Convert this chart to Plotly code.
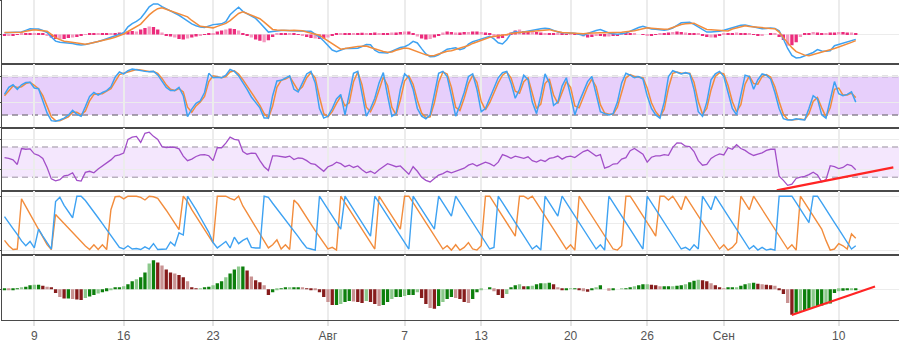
import pandas as pd
import plotly.graph_objects as go

# 8-hour bars
dates = pd.date_range("2018-07-06 16:00", periods=201, freq="8h")

macd = [
    1.7, 1.8, 1.9, 2, 2.5, 4.2, 5.7, 5.6, 5.5, 4,
    2, -2.6, -6.8, -8, -8.2, -8.4, -9.1, -10.2, -10.8, -10.2,
    -9.3, -8.3, -7.2, -5.8, -4.2, -2.5, -0.9, 0.4, 1.7, 7.7,
    11, 13.2, 16.4, 22, 28, 31, 31, 28.3, 26, 24.3,
    22.2, 19.5, 16.5, 13.5, 10.8, 8.8, 7.5, 7.2, 8.8, 10,
    10.4, 10.8, 13, 20, 24.1, 27.7, 23.5, 21, 19, 16.3,
    11.8, 7, 2.4, 3, 3.6, 3.9, 4, 4, 3.9, 3.5,
    3.3, 3.3, 3.2, 0.3, -2.6, -6.7, -11.8, -15.8, -17.6, -15.8,
    -14.3, -14.3, -14.3, -14, -12.2, -10.3, -10.5, -16, -18.4, -18.7,
    -18.8, -16.9, -14.9, -13.2, -12.4, -10.3, -7, -8.6, -14.4, -19.8,
    -22.7, -22.5, -20.6, -17.8, -15, -14.3, -13.5, -15.4, -14.2, -9.8,
    -7.4, -6, -4.7, -3.3, -1.8, -4.5, -8.4, -9.7, -5.3, 1.2,
    2.9, 1.8, 2.6, 4, 4.9, 5.5, 5.9, 6.4, 5.9, 4.2,
    2.5, 1.7, 1.7, 1.7, 1.2, 0.3, -0.9, 1, 2.8, 4,
    4.9, 2.9, 1.5, 0.6, 0.1, 0.8, 1.5, 3.2, 5.2, 7,
    8.3, 6.8, 5.6, 5.2, 4.8, 4.4, 5, 6.6, 9.3, 11.8,
    12.1, 12.3, 10.3, 7.8, 5, 2.4, 2.6, 2.9, 3.2, 4.3,
    5.6, 6.5, 7.8, 9.3, 9.6, 8.6, 7.6, 6.7, 5.8, 6,
    6.5, 6.1, 3.8, -4.6, -14.2, -21.2, -23.8, -23.4, -21.8, -20,
    -18.3, -15.4, -16.8, -17.1, -16.6, -11.4, -10.1, -8.3, -7, -5.5,
    -5,
]

signal = [
    2, 2, 2, 2, 2.2, 3.3, 4.4, 4.9, 4.4, 3.8,
    3.3, 0, -3.3, -5.3, -6.9, -7.4, -8.1, -8.8, -9.5, -10,
    -9.1, -8.2, -7.3, -6.3, -5.3, -4.1, -2.8, -1.3, 0.4, 3,
    5.4, 7.9, 10.5, 15.2, 19.9, 23.4, 26.2, 27.1, 25.7, 24.2,
    22.7, 21, 19.6, 17.9, 14.2, 10.9, 8.3, 7.8, 7.2, 6.7,
    8.2, 9.8, 11.3, 14.1, 17.7, 21.3, 23, 21.3, 19.6, 18.5,
    16, 12.6, 9.1, 5.1, 4.6, 4.2, 4, 4.1, 4.2, 4.3,
    3.7, 2.6, 1.4, 0.3, -0.8, -3.7, -6.6, -9.5, -12.5, -14.9,
    -14.3, -13.4, -12.7, -12.2, -11.9, -11.8, -13.2, -14.8, -16.2, -17.3,
    -18, -17.8, -16.1, -14.8, -13.7, -14.3, -16, -17.6, -19.3, -20.7,
    -21.5, -21.4, -19.9, -18.3, -17.1, -16.5, -15.4, -14, -12.7, -11.3,
    -9.1, -7.4, -5.8, -3.8, -2.9, -2.1, -1.5, -1.1, -0.1, 0.9,
    1.6, 2, 2.4, 2.8, 3.3, 3.8, 4.2, 4.8, 4.9, 3.7,
    2.6, 1.9, 1.7, 1.4, 1.1, 0.9, 0.8, 1.2, 1.6, 1.7,
    1.7, 1.7, 1.7, 1.7, 1.7, 2.3, 2.8, 3.2, 3.8, 4.8,
    5.8, 6.7, 6.3, 5.9, 5.5, 5.2, 5.6, 7.4, 9, 10.2,
    10.8, 11.3, 11.5, 9.3, 7.1, 5, 4.7, 4.3, 3.9, 3.6,
    3.6, 5.6, 6.8, 8.4, 8.9, 8.1, 7.6, 7, 6.6, 6.3,
    6.1, 5.8, 2.4, -3.2, -8.9, -13.4, -17.4, -19.6, -21, -21.5,
    -20.4, -19.1, -17.9, -16.7, -15.6, -14.2, -12.7, -11.3, -9.7, -8,
    -6.3,
]

macd_hist = [
    -1, -1, -1, -0.5, 0.5, 1, 1.5, 1.5, 1, 0.5,
    -1.5, -3, -4.5, -5, -4.5, -3.5, -3, -2.5, -1.5, -0.5,
    0.5, 1, 1, 1.2, 1.5, 1.5, 1.5, 2, 2, 3,
    3.5, 3, 5, 6.5, 8, 7.5, 5, 2, -1, -2,
    -3, -4.5, -5, -4, -3, -2, -1.5, -0.5, 0.5, 1.5,
    3, 4, 5, 6, 5.5, 4, 1, -1, -3, -5,
    -6.5, -8, -6, -2.5, 0.5, 0.8, 1, 0.8, 0.5, 0.3,
    -1, -2.5, -3.5, -4, -4.5, -4, -3, -1, 0.5, 1,
    1, 1.2, 1.5, 1.5, 1.7, 1.5, 1.5, 2, 1.5, 1.2,
    1.5, 2, 2, 2.5, 3, 3, 1, -2, -4, -5,
    -4.5, -3, -1, 2, 3, 2.5, 2, 2, 2.5, 2.5,
    3, 3, 2.5, 2, 0.5, -2, -4, -3.5, -1, 2,
    4, 5, 3.5, 3, 3, 2.5, 2, 1.5, 1, 0.5,
    0.5, 0.5, 0.3, 0.5, 0.5, -0.5, -2, -3, -2.5, -1,
    -1.5, -2, -2, -1.5, -1, 0.5, 1, 1, 0.5, 0,
    -0.5, -1, -1, -0.5, 0.5, 1.5, 2, 2.5, 3, 2.5,
    2, 1.5, 1, 0.5, -1.5, -2.5, -3, -3, -1.5, 0.5,
    1, 1.5, 2, 1.5, 1, 0.5, -0.5, -1, -1, 0,
    0.5, 1, -2.5, -5.5, -11.5, -11, -8, -2.5, 1, 1.5,
    2.5, 2, 1, 1.5, 2, 2, 2.5, 2.5, 2, 2,
    1.5,
]

stoch_k = [
    52, 63, 67, 60, 67, 70.5, 71, 62, 61, 42,
    23, 11, 10, 12, 15, 19.5, 27, 21, 18, 33,
    49, 55, 51, 55, 58, 64, 79, 87, 84, 89,
    91.5, 90.5, 89, 88, 87.5, 88, 82.5, 72, 63, 58,
    58, 63, 50, 17.5, 29, 38, 42, 55, 85, 78,
    79, 78, 82, 91, 88, 81, 71, 60, 48, 39,
    31, 15, 15, 50, 73, 74, 78, 81, 60, 56,
    70, 84, 88, 70, 30, 15, 18, 30, 45, 52,
    20, 55, 85, 88, 50, 18, 30, 46, 70, 86,
    50, 18, 22, 60, 84, 78, 60, 30, 18, 14,
    20, 55, 85, 88, 80, 50, 18, 35, 55, 80,
    84, 60, 25, 30, 46, 60, 78, 86, 88, 70,
    46, 60, 82, 75, 40, 22, 50, 84, 70, 35,
    40, 65, 78, 50, 20, 40, 55, 72, 80, 50,
    25, 22, 20, 22, 40, 70, 85, 82, 78, 80,
    76, 50, 30, 20, 15, 40, 80, 89, 86, 84,
    86, 84, 60, 25, 18, 40, 75, 84, 88, 80,
    55, 30, 20, 50, 82, 80, 60, 75, 84, 82,
    76, 55, 30, 14, 12, 12, 14, 13, 12, 30,
    50, 45, 20, 15, 45, 72, 53, 50, 52, 56,
    40,
]

stoch_d = [
    50, 58, 65, 63, 64, 69, 71, 66, 61, 50,
    32, 17, 11, 11, 14, 17, 24, 24, 20, 26,
    42, 52, 53, 53, 57, 61, 72, 83, 85, 87,
    90, 91, 90, 88.5, 88, 88, 85, 77, 67, 60,
    58, 61, 56, 32, 24, 34, 40, 49, 72, 81,
    79, 78, 80, 87, 89, 84, 75, 65, 53, 43,
    35, 22, 15, 34, 63, 74, 76, 80, 69, 58,
    64, 78, 86, 78, 48, 22, 17, 25, 38, 49,
    34, 39, 72, 87, 67, 32, 25, 39, 59, 79,
    66, 32, 20, 43, 73, 81, 68, 43, 23, 16,
    17, 39, 71, 87, 84, 63, 32, 27, 46, 69,
    82, 71, 41, 28, 39, 54, 70, 82, 87, 78,
    57, 54, 72, 78, 56, 30, 37, 69, 76, 51,
    38, 54, 72, 63, 34, 31, 48, 64, 76, 64,
    36, 23, 21, 21, 32, 56, 78, 83, 80, 79,
    78, 62, 39, 25, 17, 29, 62, 85, 87, 85,
    85, 85, 71, 41, 21, 30, 59, 80, 86, 84,
    66, 41, 25, 36, 68, 81, 69, 68, 80, 83,
    79, 64, 41, 21, 13, 12, 13, 13.5, 12.5, 22,
    41, 47, 31, 17, 31, 60, 62, 51, 51, 54,
    47,
]

rsi = [
    56, 55, 53, 47, 68, 67, 67.5, 61, 59, 55,
    43, 28, 25.5, 27, 32, 33, 36, 26, 25, 36.5,
    38, 36, 41, 45, 48.5, 53, 58.3, 59.5, 62, 80,
    83, 84, 76, 88, 89.5, 84, 80, 70.5, 69.3, 70,
    69.5, 67.5, 58, 52, 54, 57.5, 59.5, 60, 58.5, 52,
    69, 69, 75, 83, 80, 79, 64, 60.5, 62, 61.5,
    52, 44, 39, 58.3, 58.3, 57, 56.5, 58, 53.5, 55.5,
    55, 52, 48, 47, 42, 38, 44, 46, 50, 48,
    44, 46, 43, 45, 40, 36, 38, 35, 40, 44,
    48, 46, 44, 45, 40, 34, 44, 38, 30, 26,
    24, 28, 33, 35, 38, 36, 38, 40, 42, 46,
    48, 45, 47, 50, 48, 45, 50, 60, 58, 55,
    58, 56, 55, 57, 52, 50, 53, 51, 55, 56,
    58, 54, 57, 58, 56, 60, 64, 66, 62, 58,
    60, 42, 44, 47.5, 48, 54, 56, 65, 68, 64,
    60.5, 50, 56.5, 58.3, 58.3, 60, 59, 69.5, 75.5, 75,
    71, 70.5, 64, 52, 46, 47, 55, 58.5, 61, 59.5,
    69, 67, 73, 68, 65.5, 61.5, 58.8, 60.5, 62.3, 65.5,
    67, 67, 31.5, 26, 19.5, 21, 28.5, 30.2, 31.2, 33.5,
    36.7, 33, 24, 27, 45.3, 44, 41.5, 43, 47, 45.5,
    40,
]

aroon_up = [
    18, 8, 1, 2, 95, 80.7, 66.8, 52.5, 38.2, 24.3,
    10, 1, 66, 57.7, 49.3, 41, 32.6, 24.2, 16, 7.5,
    1, 10, 1, 10, 1, 75, 99, 100, 95, 100,
    100, 100, 98, 93, 100, 99, 96, 86, 74, 62,
    50, 38, 100, 90, 75, 62.5, 50, 38, 25.5, 13.5,
    100, 100, 100, 96, 93, 100, 82, 69, 56, 43,
    29.5, 17, 4, 10, 19, 2, 10, 1, 93, 85,
    72, 60, 48, 36, 24, 12, 2, 5, 0, 100,
    88, 75, 63, 51, 39, 26, 14, 2, 100, 88,
    75, 63, 51, 39, 100, 100, 88, 75, 63, 51,
    39, 26, 14, 2, 8, 0, 10, 0, 5, 14,
    2, 0, 8, 100, 100, 88, 75, 63, 51, 39,
    26, 100, 100, 95, 100, 88, 75, 63, 51, 39,
    26, 14, 2, 10, 0, 100, 88, 75, 63, 51,
    39, 26, 14, 2, 0, 8, 100, 100, 88, 75,
    63, 51, 39, 26, 100, 100, 93, 100, 88, 75,
    100, 88, 75, 63, 51, 39, 26, 14, 2, 10,
    0, 5, 14, 100, 88, 75, 100, 88, 75, 63,
    51, 39, 26, 14, 2, 10, 0, 100, 88, 75,
    63, 51, 39, 18, 0, 2, 12, 8, 2, 30,
    22,
]

aroon_down = [
    62, 52, 40, 29, 17, 8, 16, 4, 39, 26,
    13, 2, 90, 98, 83, 72, 60, 100, 100, 92,
    82, 71, 60, 49, 38, 28, 15, 5, 2, 8,
    2, 3, 1, 6, 2, 12, 1, 1, 2, 15,
    8, 32, 28, 100, 88, 75, 61, 47, 33, 14,
    4, 10, 16, 4, 24, 12, 18, 22, 5, 4,
    4, 100, 98, 87, 77, 67, 56, 46, 36, 25,
    14, 4, 2, 0, 100, 88, 75, 63, 51, 39,
    100, 88, 75, 63, 51, 39, 26, 100, 88, 75,
    63, 51, 39, 26, 14, 2, 100, 88, 75, 63,
    51, 39, 100, 88, 75, 63, 100, 88, 75, 63,
    51, 39, 26, 14, 2, 5, 100, 88, 75, 63,
    51, 39, 26, 14, 2, 8, 0, 100, 88, 75,
    63, 100, 88, 75, 63, 51, 39, 26, 14, 2,
    10, 0, 100, 88, 75, 63, 51, 39, 26, 14,
    2, 100, 88, 75, 63, 51, 39, 26, 14, 2,
    5, 0, 10, 2, 100, 88, 75, 100, 88, 75,
    63, 51, 39, 26, 14, 2, 8, 0, 5, 0,
    2, 0, 100, 100, 100, 100, 88, 75, 63, 51,
    100, 100, 88, 75, 63, 51, 39, 26, 14, 2,
    8,
]

ao = [
    -0.5, -1, -0.5, 0.5, 1, 2.5, 4, 4.5, 4.5, 3.5,
    2.5, 1, -4, -8, -9.5, -9.5, -10, -10.5, -11, -9,
    -7.5, -6, -4.5, -3, -2, -1, 1, 2, 3, 5,
    8, 10, 12, 17, 26, 29.4, 27, 24, 20, 17,
    16, 14.5, 12, 8, 2, 0.3, 0.5, 1, 2.5, 4,
    6, 8, 12, 16, 20, 23, 23, 19, 13, 9,
    7, 4, -6, -3, -1, 0.3, 1, 1.5, 1.5, 1.5,
    1, 0.5, -0.5, -1, -3, -8, -13, -16, -16, -15,
    -13, -12, -12.5, -13, -14, -12, -13, -15, -17, -16,
    -13, -10, -8, -8, -7, -6, -6, -3, -9, -15,
    -19, -20, -17, -13, -10, -8, -9, -10, -13, -14,
    -10, -3, -0.5, 0, 1, -2, -6, -9, -5, 1,
    4, 5, 3, 3, 3.5, 5, 6, 6, 6.5, 5,
    2, -1, -0.5, 0.5, 0.5, -1, -2, -2.5, -1, 1.5,
    4, 0, -1.5, -1, 0, 0.5, 0.5, 1.5, 3, 4,
    5, 5, 4.5, 4, 3, 3, 3, 3, 3.5, 4,
    5, 7, 8.5, 9.5, 9, 8, 6, 4, 1.5, 0.5,
    1, 1.5, 2, 3.5, 5, 6, 6.5, 5.5, 5, 4.5,
    4, 3.5, -1, -5, -14, -26, -24, -23, -21.5, -20,
    -18.5, -17.5, -16.5, -15.5, -14.5, -4, -2, -1.5, -1, -1,
    -0.5,
]

tick_dates = ["2018-07-09", "2018-07-16", "2018-07-23", "2018-08-01", "2018-08-07",
              "2018-08-13", "2018-08-20", "2018-08-26", "2018-09-01", "2018-09-10"]
tick_text = ["9", "16", "23", "Авг", "7", "13", "20", "26", "Сен", "10"]

rsi_trend_dates = ["2018-09-05 03:30", "2018-09-14 06:40"]
rsi_trend_vals = [12.9, 43.2]
ao_trend_dates = ["2018-09-06 07:40", "2018-09-12 20:10"]
ao_trend_vals = [-26.3, 2.7]

BLUE = "#3ea2f2"
ORANGE = "#f28c3c"
PURPLE = "#a24fc8"
RED = "#ff2424"
GRID = "#ececec"
FRAME = "#4a4a4a"
BAR_W = 8 * 3600 * 1000 * 0.78


def shade(vals, rise, rise_lt, fall, fall_lt):
    out = []
    for i, v in enumerate(vals):
        prev = vals[i - 1] if i else v
        light = i % 3 == 1
        if v >= prev:
            out.append(rise_lt if light else rise)
        else:
            out.append(fall_lt if light else fall)
    return out


fig = go.Figure()

# panel 1: MACD
fig.add_bar(x=dates, y=macd_hist, width=BAR_W, xaxis="x", yaxis="y",
            marker=dict(color=shade(macd_hist, "#ec2b7c", "#f59ac0", "#ec2b7c", "#f59ac0"),
                        line_width=0))
fig.add_scatter(x=dates, y=macd, mode="lines", line=dict(color=BLUE, width=1.5),
                xaxis="x", yaxis="y")
fig.add_scatter(x=dates, y=signal, mode="lines", line=dict(color=ORANGE, width=1.5),
                xaxis="x", yaxis="y")

# panel 2: stochastic
fig.add_scatter(x=dates, y=stoch_d, mode="lines", line=dict(color=ORANGE, width=1.5),
                xaxis="x2", yaxis="y2")
fig.add_scatter(x=dates, y=stoch_k, mode="lines", line=dict(color=BLUE, width=1.5),
                xaxis="x2", yaxis="y2")

# panel 3: RSI
fig.add_scatter(x=dates, y=rsi, mode="lines", line=dict(color=PURPLE, width=1.3),
                xaxis="x3", yaxis="y3")
fig.add_scatter(x=rsi_trend_dates, y=rsi_trend_vals, mode="lines",
                line=dict(color=RED, width=2.2), xaxis="x3", yaxis="y3")

# panel 4: Aroon
fig.add_scatter(x=dates, y=aroon_up, mode="lines", line=dict(color=ORANGE, width=1.4),
                xaxis="x4", yaxis="y4")
fig.add_scatter(x=dates, y=aroon_down, mode="lines", line=dict(color=BLUE, width=1.4),
                xaxis="x4", yaxis="y4")

# panel 5: awesome oscillator
fig.add_bar(x=dates, y=ao, width=BAR_W, xaxis="x5", yaxis="y5",
            marker=dict(color=shade(ao, "#0c7f0c", "#8cc98c", "#861c1c", "#c99393"),
                        line_width=0))
fig.add_scatter(x=ao_trend_dates, y=ao_trend_vals, mode="lines",
                line=dict(color=RED, width=2.2), xaxis="x5", yaxis="y5")

PLOT_H = 325.0
panels = [
    # (top px, bottom px, y range, grid values)
    (0, 64.5, [-29.5, 35], [0, 34]),
    (64.5, 129.7, [0, 100.3], [0, 40, 80]),
    (129.7, 194.3, [11.6, 95.4], [40, 80]),
    (194.3, 259.3, [-9.7, 109.1], [0, 50, 100]),
    (259.3, 325, [-31.3, 34.4], [0]),
]
x_range = ["2018-07-06 11:17", "2018-09-14 17:17"]

layout = dict(
    width=899, height=343,
    margin=dict(l=2, r=0, t=0, b=18),
    paper_bgcolor="white", plot_bgcolor="white",
    showlegend=False, barmode="overlay",
    font=dict(family="Liberation Sans, Arial, sans-serif", size=12, color="#555"),
    shapes=[],
)

for k, (top, bot, yr, gv) in enumerate(panels, start=1):
    sx = "" if k == 1 else str(k)
    last = k == len(panels)
    layout["xaxis" + sx] = dict(
        type="date", range=x_range, anchor="y" + sx,
        tickvals=tick_dates, ticktext=tick_text,
        showticklabels=last, ticks="outside" if last else "",
        ticklen=5, tickwidth=2, tickcolor="#e3e3e3",
        showgrid=True, gridcolor=GRID, gridwidth=2,
        showline=True, linecolor=FRAME, linewidth=1,
        mirror=(k != 1), zeroline=False, fixedrange=True,
        tickfont=dict(size=12, color="#555"),
    )
    layout["yaxis" + sx] = dict(
        domain=[1 - bot / PLOT_H, 1 - top / PLOT_H], range=yr, anchor="x" + sx,
        tickvals=gv, showticklabels=False, ticks="outside", ticklen=2,
        tickcolor=FRAME, showgrid=True, gridcolor=GRID, gridwidth=1,
        showline=True, linecolor=FRAME, linewidth=1, zeroline=False,
    )

# overbought / oversold bands
for ax, lo, hi, fill, dash_col in [("2", 20, 80, "#e7cffb", "#8d8793"),
                                   ("3", 30, 70, "#f4e7fd", "#b9b1bf")]:
    layout["shapes"].append(dict(type="rect", xref="x" + ax + " domain", yref="y" + ax,
                                 x0=0, x1=1, y0=lo, y1=hi, fillcolor=fill,
                                 line_width=0, layer="below"))
    for lvl in (lo, hi):
        layout["shapes"].append(dict(type="line", xref="x" + ax + " domain", yref="y" + ax,
                                     x0=0, x1=1, y0=lvl, y1=lvl,
                                     line=dict(color=dash_col, width=1.5, dash="6px,4px"),
                                     layer="below"))

fig.update_layout(**layout)
fig.write_html("out.html")
